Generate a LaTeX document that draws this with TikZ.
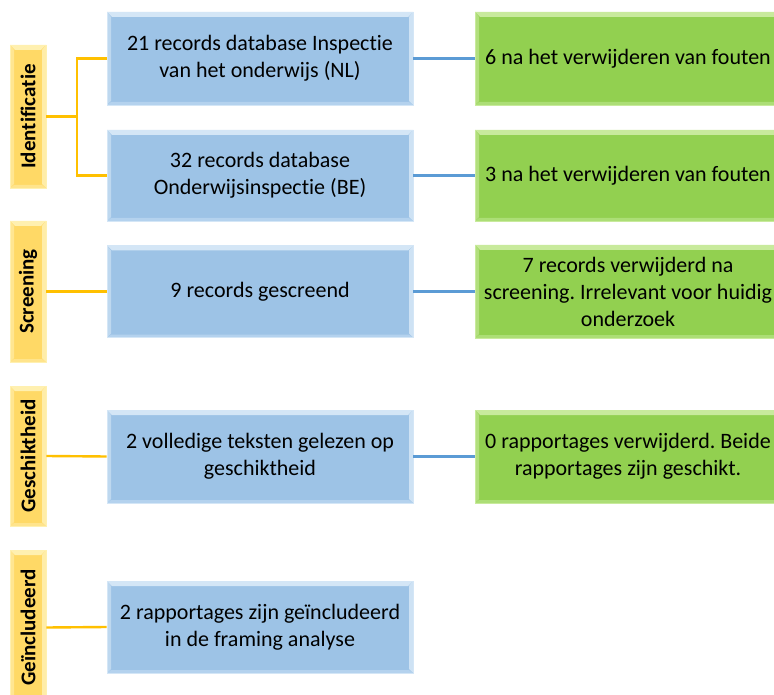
\documentclass[tikz,border=0pt]{standalone}
\usepackage{fontspec}
\setmainfont{Carlito}[Ligatures=NoCommon]
\frenchspacing
\definecolor{bluefill}{RGB}{157,195,230}
\definecolor{bluelight}{RGB}{212,230,246}
\definecolor{bluedark}{RGB}{180,210,238}
\definecolor{greenfill}{RGB}{146,208,80}
\definecolor{greenlight}{RGB}{200,234,156}
\definecolor{greendark}{RGB}{172,222,118}
\definecolor{yellowfill}{RGB}{255,217,102}
\definecolor{yellowlight}{RGB}{255,240,176}
\definecolor{yellowdark}{RGB}{255,228,140}
\definecolor{yconncol}{RGB}{255,192,0}
\definecolor{bconncol}{RGB}{91,155,213}
\tikzset{
  bevel/.style n args={3}{
    fill=#1, draw=#2, line width=0.8pt,
    path picture={
      \fill[#2] (path picture bounding box.north west) -- (path picture bounding box.north east)
        -- ([xshift=-5pt,yshift=-5pt]path picture bounding box.north east)
        -- ([xshift=5pt,yshift=-5pt]path picture bounding box.north west) -- cycle;
      \fill[#2,opacity=0.6] (path picture bounding box.north west) -- (path picture bounding box.south west)
        -- ([xshift=4pt,yshift=4pt]path picture bounding box.south west)
        -- ([xshift=4pt,yshift=-5pt]path picture bounding box.north west) -- cycle;
      \fill[#2,opacity=0.9] (path picture bounding box.north east) -- (path picture bounding box.south east)
        -- ([xshift=-4pt,yshift=4pt]path picture bounding box.south east)
        -- ([xshift=-4pt,yshift=-5pt]path picture bounding box.north east) -- cycle;
      \fill[#3] (path picture bounding box.south west) -- (path picture bounding box.south east)
        -- ([xshift=-4pt,yshift=3pt]path picture bounding box.south east)
        -- ([xshift=4pt,yshift=3pt]path picture bounding box.south west) -- cycle;
    }},
  bluebox/.style={bevel={bluefill}{bluelight}{bluedark}, minimum width=306pt, inner sep=0pt,
    align=center, font=\fontsize{22}{27}\selectfont, text=black},
  greenbox/.style={bevel={greenfill}{greenlight}{greendark}, minimum width=306pt, inner sep=0pt,
    align=center, font=\fontsize{22}{27}\selectfont, text=black},
  catbar/.style={bevel={yellowfill}{yellowlight}{yellowdark}, minimum width=36pt, inner sep=0pt,
    font=\fontsize{21}{25}\selectfont\bfseries, text=black},
  yconn/.style={draw=yconncol, line width=2.4pt},
  bconn/.style={draw=bconncol, line width=2.4pt},
}
\begin{document}
\begin{tikzpicture}[x=1pt,y=-1pt]
\clip (0,0) rectangle (774,695);
\fill[white] (0,0) rectangle (774,695);
% category bars
\node[catbar, minimum height=143pt] (id) at (28,116.5) {\rotatebox{90}{Identificatie}};
\node[catbar, minimum height=141pt] (scr) at (28,291.5) {\rotatebox{90}{Screening}};
\node[catbar, minimum height=140pt] (ges) at (28,456) {\rotatebox{90}{Geschiktheid}};
\node[catbar, minimum height=155pt] (inc) at (28,627.5) {\rotatebox{90}{Geïncludeerd}};
% blue boxes
\node[bluebox, minimum height=93pt] (b1) at (260,58.5) {21 records database Inspectie\\van het onderwijs (NL)};
\node[bluebox, minimum height=91pt] (b2) at (260,175.5) {32 records database\\Onderwijsinspectie (BE)};
\node[bluebox, minimum height=92pt] (b3) at (260,291.5) {9 records gescreend};
\node[bluebox, minimum height=93pt] (b4) at (260,456.5) {2 volledige teksten gelezen op\\geschiktheid};
\node[bluebox, minimum height=92pt] (b5) at (260,627) {2 rapportages zijn geïncludeerd\\in de framing analyse};
% green boxes
\node[greenbox, minimum height=93pt] (g1) at (628,58.5) {6 na het verwijderen van fouten};
\node[greenbox, minimum height=91pt] (g2) at (628,175.5) {3 na het verwijderen van fouten};
\node[greenbox, minimum height=93pt] (g3) at (628,291.5) {7 records verwijderd na\\screening. Irrelevant voor huidig\\onderzoek};
\node[greenbox, minimum height=93pt] (g4) at (628,456.5) {0 rapportages verwijderd. Beide\\rapportages zijn geschikt.};
% yellow connectors
\coordinate (fork) at (77,116.5);
\draw[yconn] (id.east) -- (fork);
\draw[yconn] (fork) |- (b1.west);
\draw[yconn] (fork) |- (b2.west);
\draw[yconn] (scr.east) -- (b3.west);
\draw[yconn] (ges.east) -- (b4.west);
\draw[yconn] (inc.east) -- (b5.west);
% blue connectors
\draw[bconn] (b1.east) -- (g1.west);
\draw[bconn] (b2.east) -- (g2.west);
\draw[bconn] (b3.east) -- (g3.west);
\draw[bconn] (b4.east) -- (g4.west);
\end{tikzpicture}
\end{document}
